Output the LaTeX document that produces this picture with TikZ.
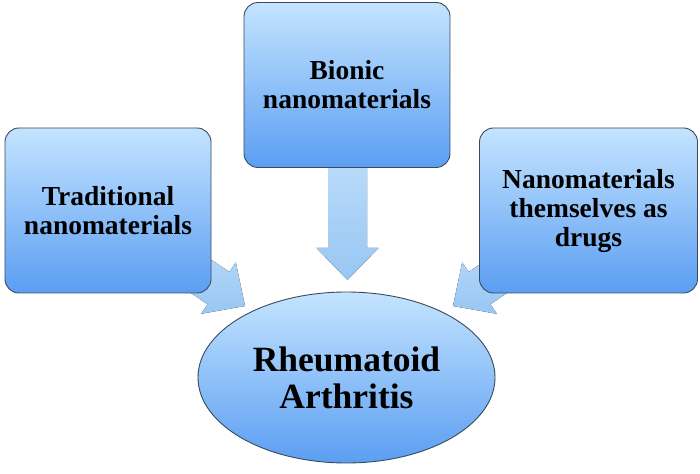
\documentclass[tikz,border=0pt]{standalone}
\usepackage{fontspec}
\setmainfont{Liberation Serif}
\usetikzlibrary{shapes.geometric}
\definecolor{boxtop}{HTML}{C4E4FF}
\definecolor{boxbot}{HTML}{5B9EF2}
\definecolor{boxline}{HTML}{3A4A5C}
\definecolor{arrtop}{HTML}{BCDDFB}
\definecolor{arrbot}{HTML}{98C6F3}
\begin{document}
\begin{tikzpicture}[x=1pt,y=1pt,
  boxnode/.style={draw=boxline, line width=0.9pt, rounded corners=14pt,
    top color=boxtop, bottom color=boxbot, minimum height=165pt,
    align=center, inner sep=2pt,
    font=\fontsize{27.5}{29}\selectfont\bfseries},
  ellnode/.style={ellipse, draw=boxline, line width=0.9pt,
    top color=boxtop, bottom color=boxbot, minimum width=297pt,
    minimum height=171pt, inner sep=0pt, align=center,
    font=\fontsize{35.5}{37}\selectfont\bfseries},
  blockarrow/.style={top color=arrtop, bottom color=arrbot, draw=none}]
\useasboundingbox (0,0) rectangle (700,473);
\fill[white] (0,0) rectangle (700,473);
% arrow anchor coordinates
\coordinate (tipT) at (347.5,193);
\coordinate (tipL) at (245,167);
\coordinate (tipR) at (453,167);
% block arrows (behind boxes)
\fill[blockarrow, shift={(tipT)}, rotate=-90]
  (0,0) -- (-32,31) -- (-32,19.5) -- (-130,19.5) -- (-130,-19.5) -- (-32,-19.5) -- (-32,-31) -- cycle;
\fill[blockarrow, shift={(tipL)}, rotate=-34]
  (0,0) -- (-32,31) -- (-32,19.5) -- (-100,19.5) -- (-100,-19.5) -- (-32,-19.5) -- (-32,-31) -- cycle;
\fill[blockarrow, shift={(tipR)}, rotate=214]
  (0,0) -- (-32,31) -- (-32,19.5) -- (-100,19.5) -- (-100,-19.5) -- (-32,-19.5) -- (-32,-31) -- cycle;
% boxes
\node[boxnode, minimum width=206pt] (trad) at (108,262.5) {Traditional\\nanomaterials};
\node[boxnode, minimum width=206pt] (bion) at (347,388) {Bionic\\nanomaterials};
\node[boxnode, minimum width=218pt] (drug) at (588.5,262.5) {Nanomaterials\\themselves as\\drugs};
% ellipse
\node[ellnode] (ra) at (346.5,95.5) {Rheumatoid\\Arthritis};
\end{tikzpicture}
\end{document}
